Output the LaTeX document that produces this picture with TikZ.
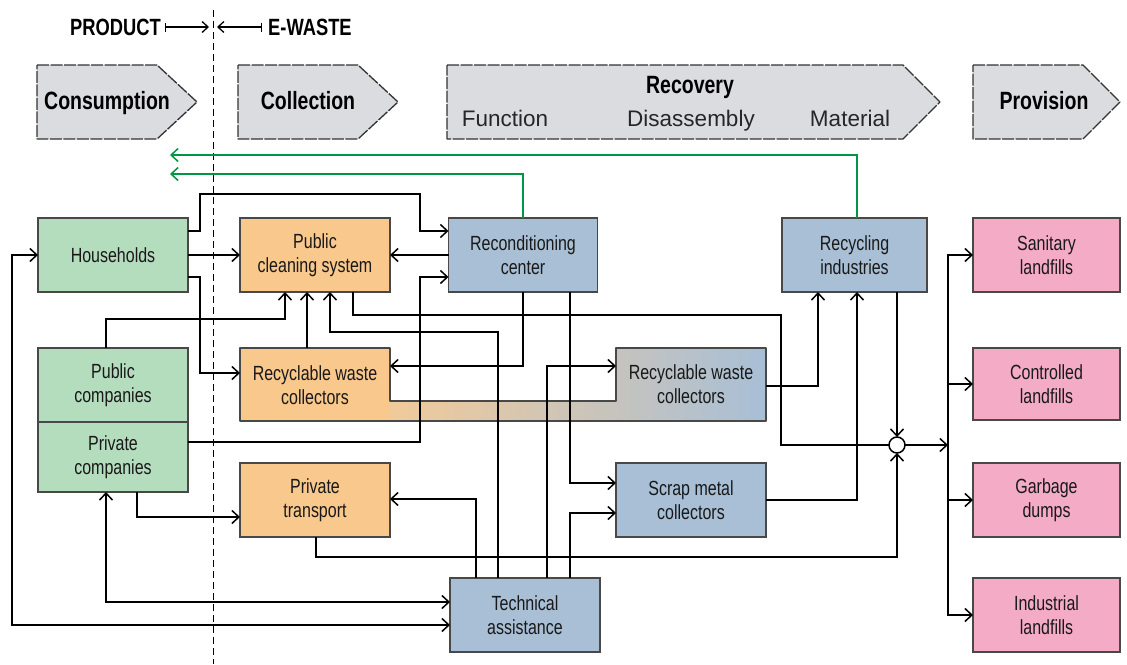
\documentclass[tikz,border=0pt]{standalone}
\usepackage{fontspec}
\setmainfont{Liberation Sans}
\newfontfamily\cnd{Liberation Sans}[FakeStretch=0.78]
\usetikzlibrary{arrows.meta}
\definecolor{grnbox}{RGB}{180,221,190}
\definecolor{orgbox}{RGB}{248,200,140}
\definecolor{blubox}{RGB}{168,191,214}
\definecolor{pnkbox}{RGB}{244,172,198}
\definecolor{stg}{RGB}{219,220,224}
\definecolor{bordc}{RGB}{72,72,72}
\definecolor{grnline}{RGB}{0,150,70}
\definecolor{bandmid}{RGB}{212,212,210}
\newcommand\boxfnt{\cnd\fontsize{20.5}{24}\selectfont}
\newcommand\stagefnt{\cnd\bfseries\fontsize{25}{28}\selectfont}
\newcommand\subfnt{\fontsize{22.5}{26}\selectfont}
\newcommand\hdrfnt{\cnd\bfseries\fontsize{23.5}{26}\selectfont}
\begin{document}
\begin{tikzpicture}[x=1pt,y=-1pt,
  box/.style={draw=bordc, line width=1.4pt, minimum width=150pt, minimum height=74pt,
    inner sep=0pt, outer sep=0pt, align=center, font=\boxfnt, text=black!90},
  ln/.style={line width=1.5pt, black},
  arr/.style={ln, -{Straight Barb[length=7pt,width=13pt]}},
  darr/.style={ln, {Straight Barb[length=7pt,width=13pt]}-{Straight Barb[length=7pt,width=13pt]}},
  garr/.style={line width=1.5pt, draw=grnline, -{Straight Barb[length=7pt,width=13pt]}},
  stage/.style={draw=black!80, line width=1.3pt, fill=stg, line join=round, dash pattern=on 12pt off 1.5pt},
  stagelbl/.style={font=\stagefnt, inner sep=0pt, text=black, anchor=base},
  sublbl/.style={font=\subfnt, inner sep=0pt, text=black!85, anchor=base},
  hdr/.style={font=\hdrfnt, inner sep=0pt},
  harr/.style={line width=1.3pt, {Bar[width=9pt]}-{Straight Barb[length=6pt,width=11pt]}}
]
\useasboundingbox (0,0) rectangle (1127,664);

% header
\node[hdr, anchor=east] (prod) at (161,27) {PRODUCT};
\node[hdr, anchor=west] (ewaste) at (268,27) {E-WASTE};
\coordinate (pa) at (209,27);
\coordinate (ea) at (217,27);
\draw[harr] ([xshift=4pt]prod.east) -- (pa);
\draw[harr] ([xshift=-6pt]ewaste.west) -- (ea);
\coordinate (divtop) at (213,10);
\coordinate (divbot) at (213,664);
\draw[line width=1pt, dash pattern=on 7pt off 4pt] (divtop) -- (divbot);

% stage arrows
\draw[stage] (37,65) -- (157,65) -- (197,102) -- (157,139) -- (37,139) -- cycle;
\draw[stage] (238,65) -- (358,65) -- (398,102) -- (358,139) -- (238,139) -- cycle;
\draw[stage] (447,65) -- (903,65) -- (940,102) -- (903,139) -- (447,139) -- cycle;
\draw[stage] (973,65) -- (1083,65) -- (1120,102) -- (1083,139) -- (973,139) -- cycle;
\node[stagelbl] (sconsum) at (107,109) {Consumption};
\node[stagelbl] (scollect) at (308,109) {Collection};
\node[stagelbl] (srecov) at (690,93) {Recovery};
\node[stagelbl] (sprov) at (1044,109) {Provision};
\node[sublbl] (sfunc) at (505,126) {Function};
\node[sublbl] (sdis) at (691,126) {Disassembly};
\node[sublbl] (smat) at (850,126) {Material};

% recyclable waste collectors compound shape
\fill[orgbox] (240,348) rectangle (390,421);
\shade[left color=orgbox!80!bandmid, middle color=bandmid, right color=blubox]
  (389,401) -- (616,401) -- (616,348) -- (766,348) -- (766,421) -- (389,421) -- cycle;
\draw[draw=bordc, line width=1.4pt, line join=round]
  (240,348) -- (390,348) -- (390,401) -- (616,401) -- (616,348) -- (766,348)
  -- (766,421) -- (240,421) -- cycle;

% boxes
\node[box, fill=grnbox] (hh) at (113,255) {Households};
\node[box, fill=orgbox] (pcs) at (315,255) {Public\\cleaning system};
\node[box, fill=blubox, minimum width=149pt] (rc) at (523,255) {Reconditioning\\center};
\node[box, fill=blubox, minimum width=145pt] (ri) at (854.5,255) {Recycling\\industries};
\node[box, fill=grnbox] (pubc) at (113,385) {Public\\companies};
\node[box, fill=grnbox, minimum height=70pt] (privc) at (113,457) {Private\\companies};
\node[box, draw=none] (rwcA) at (315,385) {Recyclable waste\\collectors};
\node[box, draw=none, minimum height=72pt] (rwcB) at (691,384) {Recyclable waste\\collectors};
\node[box, fill=orgbox] (pt) at (315,500) {Private\\transport};
\node[box, fill=blubox] (smc) at (691,500) {Scrap metal\\collectors};
\node[box, fill=blubox] (ta) at (525,615) {Technical\\assistance};
\node[box, fill=pnkbox, minimum width=147pt] (sl) at (1046.5,255) {Sanitary\\landfills};
\node[box, fill=pnkbox, minimum width=147pt, minimum height=72pt] (cl) at (1046.5,384) {Controlled\\landfills};
\node[box, fill=pnkbox, minimum width=147pt] (gd) at (1046.5,500) {Garbage\\dumps};
\node[box, fill=pnkbox, minimum width=147pt] (il) at (1046.5,615) {Industrial\\landfills};
\node[circle, draw, line width=1.5pt, fill=white, minimum size=16pt, inner sep=0pt, outer sep=0pt] (J) at (897,445) {};

% green return arrows
\coordinate (g1) at (170,174);
\coordinate (g2) at (170,155);
\draw[garr] (rc.north) -- (523,174) -- (g1);
\draw[garr] (ri.north -| 857,0) -- (857,155) -- (g2);

% connectors
\draw[arr] (hh.east |- 0,231) -- (200,231) -- (200,194) -- (420,194) -- (420,231) -- (rc.west |- 0,231);
\draw[arr] (hh.east) -- (pcs.west);
\draw[arr] (hh.east |- 0,277) -- (200,277) -- (200,373) -- (rwcA.west |- 0,373);
\draw[arr] (pubc.north -| 106,0) -- (106,319) -- (285,319) -- (pcs.south -| 285,0);
\draw[arr] (rwcA.north -| 307,0) -- (pcs.south -| 307,0);
\draw[arr] (ta.north -| 498,0) -- (498,332) -- (330,332) -- (pcs.south -| 330,0);
\draw[ln] (pcs.south -| 353,0) -- (353,315) -- (781,315) -- (781,445) -- (J.west);
\draw[arr] (rc.west) -- (pcs.east);
\draw[arr] (privc.east |- 0,442) -- (420,442) -- (420,277) -- (rc.west |- 0,277);
\draw[arr] (rc.south) -- (523,366) -- (rwcA.east |- 0,366);
\draw[arr] (rc.south -| 570,0) -- (570,483) -- (smc.west |- 0,483);
\draw[arr] (ta.north -| 547,0) -- (547,366) -- (rwcB.west |- 0,366);
\draw[arr] (ta.north -| 570,0) -- (570,513) -- (smc.west |- 0,513);
\draw[arr] (ta.north -| 476,0) -- (476,499) -- (pt.east |- 0,499);
\draw[arr] (privc.south -| 137,0) -- (137,517) -- (pt.west |- 0,517);
\draw[darr] (ta.west |- 0,602) -- (106,602) -- (privc.south -| 106,0);
\draw[darr] (hh.west) -- (12,255) -- (12,625) -- (ta.west |- 0,625);
\draw[arr] (pt.south -| 316,0) -- (316,557) -- (897,557) -- (J.south);
\draw[arr] (ri.south -| 897,0) -- (J.north);
\draw[arr] (rwcB.east |- 0,386) -- (818,386) -- (ri.south -| 818,0);
\draw[arr] (smc.east) -- (857,500) -- (ri.south -| 857,0);

% distribution
\coordinate (bus) at (948,445);
\draw[arr] (J.east) -- (bus);
\draw[arr] (bus) |- (sl.west);
\draw[arr] (bus) |- (cl.west);
\draw[arr] (bus) |- (gd.west);
\draw[arr] (bus) |- (il.west);
\end{tikzpicture}
\end{document}
